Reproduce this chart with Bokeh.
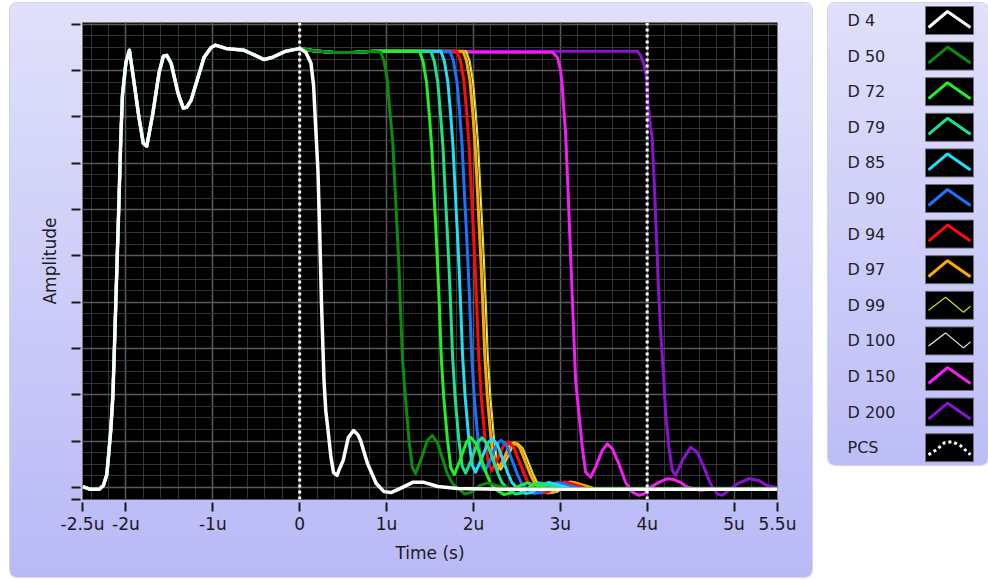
from bokeh.plotting import figure
from bokeh.models import Range1d, FixedTicker, Span, AllLabels
from bokeh.layouts import row, column
from bokeh.embed import file_html
from bokeh.resources import INLINE
from bokeh.core.properties import value

# ---------------- data (time in microseconds, amplitude in arbitrary units) ----------------
# leading edge shared by every trace (they overlap exactly before t = 0)
lead_t = [-2.50, -2.41, -2.31, -2.26, -2.22, -2.20, -2.175, -2.15, -2.13, -2.105, -2.08, -2.06,
          -2.04, -2.00, -1.96, -1.91, -1.85, -1.80, -1.76, -1.69, -1.62, -1.57, -1.53, -1.48,
          -1.40, -1.34, -1.30, -1.25, -1.17, -1.10, -1.02, -0.97, -0.85, -0.64, -0.51, -0.41,
          -0.31, -0.16, -0.05]
lead_amp = [0.02, -0.04, -0.04, 0.04, 0.28, 0.69, 1.23, 1.99, 3.17, 4.69, 6.20, 7.49,
            8.47, 9.18, 9.44, 8.79, 7.99, 7.43, 7.37, 8.08, 8.94, 9.31, 9.33, 9.16,
            8.51, 8.19, 8.21, 8.36, 8.86, 9.29, 9.50, 9.55, 9.48, 9.44, 9.33, 9.24,
            9.29, 9.42, 9.46]
# flat top shared after t = 0
top_t = [0.0, 0.16, 0.39, 0.62, 0.85]
top_amp = [9.48, 9.43, 9.39, 9.39, 9.42]

d4_t = [0, 0.07, 0.13, 0.16, 0.18, 0.21, 0.23, 0.25, 0.28, 0.30, 0.32, 0.36, 0.39, 0.43, 0.46,
        0.50, 0.56, 0.62, 0.67, 0.70, 0.78, 0.88, 0.97, 1.05, 1.16, 1.30, 1.43, 1.59, 1.82,
        2.31, 3.46, 4.61, 5.5]
d4_amp = [9.48, 9.40, 9.16, 8.68, 7.93, 6.85, 5.55, 4.04, 2.31, 1.66, 1.34, 0.65, 0.32, 0.26,
          0.41, 0.58, 1.08, 1.23, 1.14, 1.02, 0.52, 0.09, -0.09, -0.11, -0.02, 0.11, 0.11,
          0.02, -0.02, -0.04, -0.04, -0.04, -0.04]

d50_t = [0.93, 0.97, 1.01, 1.03, 1.07, 1.105, 1.124, 1.143, 1.162, 1.185, 1.22, 1.258, 1.297,
         1.335, 1.392, 1.47, 1.527, 1.585, 1.642, 1.70, 1.757, 1.83, 1.90, 1.98, 2.07, 2.17,
         2.27, 2.42, 5.5]
d50_amp = [9.40, 9.22, 8.79, 8.29, 7.49, 6.20, 5.49, 4.75, 3.76, 2.74, 1.88, 1.02, 0.43, 0.30,
           0.58, 1.02, 1.12, 0.97, 0.63, 0.30, 0.09, -0.03, -0.14, -0.10, 0.04, 0.10, 0.04,
           -0.02, -0.02]

d72_t = [1.38, 1.42, 1.46, 1.49, 1.52, 1.55, 1.57, 1.59, 1.61, 1.63, 1.66, 1.70, 1.74, 1.78,
         1.84, 1.92, 1.97, 2.03, 2.09, 2.15, 2.20, 2.27, 2.35, 2.43, 2.52, 2.62, 2.72, 2.87, 5.5]
d72_amp = [9.42, 9.20, 8.75, 8.10, 7.35, 6.20, 5.50, 4.70, 3.80, 2.80, 1.90, 1.05, 0.42, 0.28,
           0.56, 0.98, 1.08, 0.95, 0.62, 0.30, 0.08, -0.06, -0.15, -0.12, 0.03, 0.10, 0.05,
           -0.02, -0.02]

d79_t = [1.51, 1.55, 1.59, 1.62, 1.65, 1.68, 1.70, 1.72, 1.74, 1.76, 1.79, 1.83, 1.87, 1.91,
         1.97, 2.05, 2.10, 2.16, 2.22, 2.28, 2.33, 2.40, 2.48, 2.56, 2.65, 2.75, 2.85, 3.00, 5.5]
d79_amp = [9.42, 9.20, 8.74, 8.08, 7.33, 6.18, 5.48, 4.70, 3.80, 2.82, 1.92, 1.06, 0.46, 0.31,
           0.57, 0.98, 1.07, 0.94, 0.62, 0.31, 0.10, -0.05, -0.14, -0.12, 0.02, 0.10, 0.06,
           -0.02, -0.02]

d85_t = [1.625, 1.665, 1.705, 1.735, 1.765, 1.795, 1.815, 1.835, 1.855, 1.875, 1.905, 1.945,
         1.985, 2.025, 2.085, 2.165, 2.215, 2.275, 2.335, 2.395, 2.445, 2.515, 2.595, 2.675,
         2.765, 2.865, 2.965, 3.115, 5.5]
d85_amp = [9.42, 9.21, 8.76, 8.12, 7.36, 6.22, 5.50, 4.72, 3.82, 2.84, 1.94, 1.08, 0.48, 0.33,
           0.58, 0.96, 1.05, 0.93, 0.62, 0.31, 0.10, -0.04, -0.13, -0.11, 0.03, 0.11, 0.06,
           -0.02, -0.02]

d90_t = [1.73, 1.77, 1.81, 1.84, 1.87, 1.90, 1.92, 1.94, 1.96, 1.98, 2.01, 2.05, 2.09, 2.13,
         2.19, 2.27, 2.32, 2.38, 2.44, 2.50, 2.55, 2.62, 2.70, 2.78, 2.87, 2.97, 3.07, 3.22, 5.5]
d90_amp = [9.42, 9.21, 8.76, 8.12, 7.36, 6.22, 5.50, 4.72, 3.82, 2.84, 1.94, 1.08, 0.50, 0.35,
           0.58, 0.95, 1.02, 0.91, 0.61, 0.31, 0.10, -0.04, -0.13, -0.11, 0.03, 0.11, 0.06,
           -0.02, -0.02]

d94_t = [1.81, 1.85, 1.89, 1.92, 1.95, 1.98, 2.00, 2.02, 2.04, 2.06, 2.09, 2.13, 2.17, 2.21,
         2.27, 2.35, 2.40, 2.46, 2.52, 2.58, 2.63, 2.70, 2.78, 2.86, 2.95, 3.05, 3.15, 3.30, 5.5]
d94_amp = [9.42, 9.22, 8.78, 8.14, 7.38, 6.24, 5.52, 4.74, 3.84, 2.86, 1.96, 1.10, 0.52, 0.37,
           0.58, 0.92, 0.98, 0.88, 0.60, 0.31, 0.11, -0.03, -0.12, -0.10, 0.04, 0.12, 0.07,
           -0.02, -0.02]

d97_t = [1.88, 1.92, 1.96, 1.99, 2.02, 2.05, 2.07, 2.09, 2.11, 2.13, 2.16, 2.20, 2.24, 2.28,
         2.34, 2.42, 2.47, 2.53, 2.59, 2.65, 2.70, 2.77, 2.85, 2.93, 3.02, 3.12, 3.22, 3.37, 5.5]
d97_amp = [9.42, 9.22, 8.78, 8.14, 7.38, 6.24, 5.52, 4.74, 3.84, 2.86, 1.96, 1.10, 0.53, 0.38,
           0.58, 0.91, 0.97, 0.87, 0.60, 0.31, 0.11, -0.03, -0.12, -0.10, 0.04, 0.12, 0.07,
           -0.02, -0.02]

d99_t = [1.92, 1.96, 2.00, 2.03, 2.06, 2.09, 2.11, 2.13, 2.15, 2.17, 2.20, 2.24, 2.28, 2.32,
         2.38, 2.46, 2.51, 2.57, 2.63, 2.69, 2.74, 2.81, 2.89, 2.97, 3.06, 3.16, 3.26, 3.41, 5.5]
d99_amp = [9.43, 9.22, 8.78, 8.14, 7.38, 6.24, 5.52, 4.74, 3.84, 2.86, 1.96, 1.10, 0.53, 0.38,
           0.58, 0.90, 0.96, 0.86, 0.59, 0.30, 0.10, -0.03, -0.12, -0.10, 0.04, 0.12, 0.07,
           -0.02, -0.02]

d100_t = [1.91, 1.95, 1.99, 2.02, 2.05, 2.08, 2.10, 2.12, 2.14, 2.16, 2.19, 2.23, 2.27, 2.31,
          2.37, 2.45, 2.50, 2.56, 2.62, 2.68, 2.73, 2.80, 2.88, 2.96, 3.05, 3.15, 3.25, 3.40, 5.5]
d100_amp = [9.43, 9.22, 8.78, 8.14, 7.38, 6.24, 5.52, 4.74, 3.84, 2.86, 1.96, 1.10, 0.53, 0.38,
            0.58, 0.90, 0.96, 0.86, 0.59, 0.30, 0.10, -0.03, -0.12, -0.10, 0.04, 0.12, 0.07,
            -0.02, -0.02]

d150_t = [1.5, 2.2, 2.91, 2.965, 3.003, 3.023, 3.041, 3.061, 3.084, 3.107, 3.130, 3.153, 3.176,
          3.214, 3.253, 3.291, 3.349, 3.406, 3.483, 3.541, 3.598, 3.674, 3.751, 3.829, 3.904,
          3.962, 4.039, 4.135, 4.231, 4.307, 4.384, 4.461, 4.61, 4.845, 5.5]
d150_amp = [9.41, 9.40, 9.40, 9.29, 9.01, 8.65, 8.15, 7.65, 6.63, 5.55, 4.47, 3.39, 2.31, 1.60,
            0.87, 0.33, 0.22, 0.44, 0.80, 0.94, 0.84, 0.51, 0.11, -0.10, -0.17, -0.14, 0.01,
            0.11, 0.19, 0.17, 0.11, 0.01, -0.06, -0.02, -0.02]

d200_t = [1.5, 2.2, 3.0, 3.886, 3.924, 3.962, 3.993, 4.008, 4.039, 4.058, 4.085, 4.108, 4.131,
          4.154, 4.192, 4.212, 4.250, 4.289, 4.327, 4.404, 4.499, 4.576, 4.652, 4.729, 4.806,
          4.864, 4.940, 5.037, 5.170, 5.285, 5.382, 5.5]
d200_amp = [9.42, 9.42, 9.42, 9.42, 9.33, 9.15, 8.86, 8.29, 7.78, 7.54, 6.41, 5.33, 4.25, 3.39,
            2.31, 1.60, 0.87, 0.37, 0.26, 0.58, 0.87, 0.76, 0.44, 0.08, -0.14, -0.17, -0.06,
            0.08, 0.19, 0.15, 0.04, 0.0]

pcs_t = [0.0, 4.0]

names = ["D 4", "D 50", "D 72", "D 79", "D 85", "D 90", "D 94", "D 97", "D 99", "D 100",
         "D 150", "D 200", "PCS"]
colors = ["#ffffff", "#0b8c0b", "#22f022", "#1de08e", "#22def5", "#1a72ff", "#ff0a0a",
          "#ffa800", "#dada00", "#f2f2f2", "#f21ef2", "#8a12d0", "#ffffff"]

x_ticks = [-2.5, -2, -1, 0, 1, 2, 3, 4, 5, 5.5]
x_labels = ["-2.5u", "-2u", "-1u", "0", "1u", "2u", "3u", "4u", "5u", "5.5u"]
y_ticks = [-0.26, 0, 1, 2, 3, 4, 5, 6, 7, 8, 9, 10]

# ---------------- build full traces ----------------
post = [(d4_t, d4_amp, False), (d50_t, d50_amp, True), (d72_t, d72_amp, True),
        (d79_t, d79_amp, True), (d85_t, d85_amp, True), (d90_t, d90_amp, True),
        (d94_t, d94_amp, True), (d97_t, d97_amp, True), (d99_t, d99_amp, True),
        (d100_t, d100_amp, True), (d150_t, d150_amp, True), (d200_t, d200_amp, True)]
traces = []
for (pt, pa, use_top) in post:
    if use_top:
        traces.append((lead_t + top_t + pt, lead_amp + top_amp + pa))
    else:
        traces.append((lead_t + pt, lead_amp + pa))
widths = [3.5, 3, 3, 3, 3, 3, 3, 3, 1.2, 1.2, 3, 3]

FONT = "DejaVu Sans"

p = figure(width=802, height=574, output_backend="svg", toolbar_location=None,
           x_range=Range1d(-2.5, 5.5), y_range=Range1d(-0.26, 10.04),
           min_border_left=72, min_border_right=35, min_border_top=19, min_border_bottom=78)
p.background_fill_color = "black"
p.border_fill_color = None
p.outline_line_color = "#7a7a7a"
p.styles = {"background": "linear-gradient(180deg, #e0e0fa 0%, #b9b9f7 100%)",
            "border-radius": "7px", "box-shadow": "0 0 0 1px #d2d2e8"}
p.margin = (3, 0, 0, 10)

x_minor = [round(-2.4 + 0.2 * i, 2) for i in range(40)]
y_minor = [0.25 * i for i in range(-1, 41)]
xt = FixedTicker(ticks=x_ticks, minor_ticks=x_minor)
yt = FixedTicker(ticks=y_ticks, minor_ticks=y_minor)
p.xaxis.ticker = xt
p.yaxis.ticker = yt
p.xgrid.ticker = xt
p.ygrid.ticker = yt
for g in (p.xgrid, p.ygrid):
    g.grid_line_color = "#5a5a5a"
    g.grid_line_width = 1.5
    g.minor_grid_line_color = "#343434"
    g.minor_grid_line_width = 1

p.xaxis.major_label_overrides = {t: lab for t, lab in zip(x_ticks, x_labels)}
p.xaxis.major_label_policy = AllLabels()
p.yaxis.major_label_overrides = {t: "" for t in y_ticks}
for ax in (p.xaxis[0], p.yaxis[0]):
    ax.axis_line_color = None
    ax.minor_tick_line_color = None
    ax.major_tick_line_color = "#1a1a1a"
    ax.major_tick_line_width = 2
    ax.major_label_text_font = FONT
    ax.major_label_text_font_size = "17px"
    ax.major_label_text_color = "#1a1a22"
    ax.axis_label_text_font = FONT
    ax.axis_label_text_font_size = "17px"
    ax.axis_label_text_font_style = "normal"
    ax.axis_label_text_color = "#1a1a22"
p.xaxis.major_tick_in = -3
p.xaxis.major_tick_out = 12
p.xaxis.major_label_standoff = 2
p.xaxis.axis_label = "Time (s)"
p.xaxis.axis_label_standoff = 6
p.yaxis.major_tick_in = -2
p.yaxis.major_tick_out = 11
p.yaxis.major_label_standoff = 0
p.yaxis.axis_label = "Amplitude"
p.yaxis.axis_label_standoff = 12

for i in reversed(range(12)):
    tx, ty = traces[i]
    p.line(tx, ty, line_color=colors[i], line_width=widths[i], line_join="round")

for tv in pcs_t:
    p.add_layout(Span(location=tv, dimension="height", line_color="white",
                      line_width=3, line_dash="3 3"))

# ---------------- legend panel ----------------
leg = figure(width=160, height=462, output_backend="svg", toolbar_location=None,
             x_range=Range1d(0, 160), y_range=Range1d(462, 0),
             x_axis_type=None, y_axis_type=None, min_border=0,
             min_border_top=0, min_border_bottom=0, min_border_left=0, min_border_right=0)
leg.background_fill_color = None
leg.border_fill_color = None
leg.outline_line_color = None
leg.styles = {"background": "linear-gradient(180deg, #e0e0fa 0%, #bdbdf7 100%)",
              "border-radius": "7px", "box-shadow": "0 0 0 1px #d2d2e8"}

n = len(names)
cy = [17 + 35.6 * i for i in range(n)]
bx = 121
leg.rect(x=[bx] * n, y=cy, width=48, height=28, fill_color="black",
         line_color="#70707e", line_width=1)
leg.text(x=[19] * n, y=cy, text=names, text_font=value(FONT), text_font_size=value("16px"),
         text_baseline="middle", text_color="#22222e")

thick_xs, thick_ys, thick_c = [], [], []
thin_xs, thin_ys, thin_c = [], [], []
for i in range(12):
    if widths[i] < 2:
        thin_xs.append([bx - 21, bx - 4, bx + 14, bx + 21])
        thin_ys.append([cy[i] + 5, cy[i] - 8, cy[i] + 7, cy[i] + 1])
        thin_c.append(colors[i])
    else:
        thick_xs.append([bx - 21, bx - 2, bx + 21])
        thick_ys.append([cy[i] + 7, cy[i] - 9, cy[i] + 7])
        thick_c.append(colors[i])
leg.multi_line(thick_xs, thick_ys, line_color=thick_c, line_width=3)
leg.multi_line(thin_xs, thin_ys, line_color=thin_c, line_width=1.2)
k = n - 1
leg.line([bx - 21, bx - 13, bx - 5, bx + 3, bx + 11, bx + 21],
         [cy[k] + 7, cy[k] + 2, cy[k] - 5, cy[k] - 6, cy[k] - 2, cy[k] + 7],
         line_color=colors[k], line_width=3, line_dash="3 3")

legcol = column(leg)
legcol.margin = (3, 0, 0, 16)
layout = row(p, legcol)
open("out.html", "w").write(file_html(layout, INLINE))
